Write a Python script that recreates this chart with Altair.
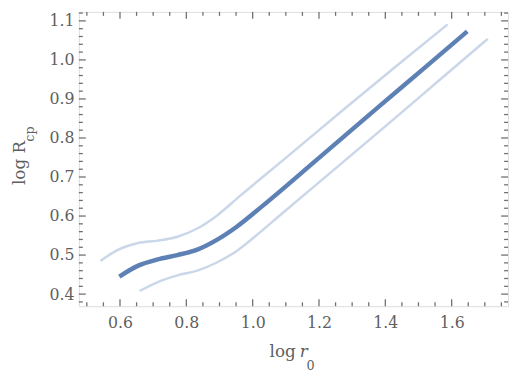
import altair as alt
import pandas as pd

# ---- data ----
main_x = [0.598, 0.655, 0.714, 0.773, 0.833, 0.892, 0.951, 1.030, 1.200, 1.376, 1.520, 1.647]
main_y = [0.445, 0.473, 0.489, 0.500, 0.514, 0.539, 0.572, 0.626, 0.749, 0.877, 0.981, 1.073]

upper_x = [0.541, 0.595, 0.655, 0.714, 0.773, 0.833, 0.892, 0.961, 1.100, 1.287, 1.450, 1.588]
upper_y = [0.485, 0.514, 0.531, 0.537, 0.547, 0.568, 0.601, 0.651, 0.749, 0.882, 0.996, 1.091]

lower_x = [0.659, 0.714, 0.773, 0.833, 0.892, 0.951, 1.030, 1.070, 1.250, 1.407, 1.560, 1.709]
lower_y = [0.408, 0.431, 0.448, 0.460, 0.481, 0.510, 0.564, 0.593, 0.722, 0.835, 0.946, 1.054]

x_major = [0.6, 0.8, 1.0, 1.2, 1.4, 1.6]
x_minor = [0.5, 0.55, 0.65, 0.7, 0.75, 0.85, 0.9, 0.95, 1.05, 1.1, 1.15, 1.25, 1.3, 1.35,
           1.45, 1.5, 1.55, 1.65, 1.7, 1.75]
y_major = [0.4, 0.5, 0.6, 0.7, 0.8, 0.9, 1.0, 1.1]
y_minor = [0.38, 0.42, 0.44, 0.46, 0.48, 0.52, 0.54, 0.56, 0.58, 0.62, 0.64, 0.66, 0.68,
           0.72, 0.74, 0.76, 0.78, 0.82, 0.84, 0.86, 0.88, 0.92, 0.94, 0.96, 0.98,
           1.02, 1.04, 1.06, 1.08, 1.12]

X_DOMAIN = [0.476, 1.770]
Y_DOMAIN = [0.369, 1.123]
W, H = 436, 299
MAJ, MIN = 7, 4

FONT = "DejaVu Serif"
FRAME = "#999999"
TICK = "#707070"
LABEL = "#5f5f5f"
MAIN = "#5e81b5"
LIGHT = "#cad7e9"

def frame_df(xs, ys, name):
    return pd.DataFrame({"x": xs, "y": ys, "s": name})

main_df = frame_df(main_x, main_y, "main")
band_df = pd.concat([frame_df(upper_x, upper_y, "upper"),
                     frame_df(lower_x, lower_y, "lower")])

xs = alt.Scale(domain=X_DOMAIN, nice=False, zero=False)
ys = alt.Scale(domain=Y_DOMAIN, nice=False, zero=False)

bands = alt.Chart(band_df).mark_line(strokeWidth=2.5, color=LIGHT, interpolate="monotone").encode(
    x=alt.X("x:Q", scale=xs, axis=alt.Axis(orient="bottom", values=x_major, format=".1f",
            ticks=False, tickSize=0, domain=False, grid=False, title=None,
            labelPadding=9, labelFont=FONT, labelFontSize=16, labelColor=LABEL)),
    y=alt.Y("y:Q", scale=ys, axis=alt.Axis(orient="left", values=y_major, format=".1f",
            ticks=False, tickSize=0, domain=False, grid=False, title=None,
            labelPadding=5, labelFont=FONT, labelFontSize=16, labelColor=LABEL)),
    detail="s:N",
)

main_line = alt.Chart(main_df).mark_line(strokeWidth=4.5, color=MAIN, interpolate="monotone").encode(
    x=alt.X("x:Q", scale=xs), y=alt.Y("y:Q", scale=ys),
)

def xrules(values, y0, y1):
    return alt.Chart(pd.DataFrame({"v": values})).mark_rule(
        color=TICK, strokeWidth=1.3, opacity=1).encode(
        x=alt.X("v:Q", scale=xs), y=alt.value(y0), y2=alt.value(y1))

def yrules(values, x0, x1):
    return alt.Chart(pd.DataFrame({"v": values})).mark_rule(
        color=TICK, strokeWidth=1.3, opacity=1).encode(
        y=alt.Y("v:Q", scale=ys), x=alt.value(x0), x2=alt.value(x1))

ticks = [
    xrules(x_major, H, H - MAJ), xrules(x_minor, H, H - MIN),
    xrules(x_major, 0, MAJ), xrules(x_minor, 0, MIN),
    yrules(y_major, 0, MAJ), yrules(y_minor, 0, MIN),
    yrules(y_major, W, W - MAJ), yrules(y_minor, W, W - MIN),
]

def label(text, x, y, size=17, angle=0, style="normal", baseline="alphabetic"):
    return alt.Chart(pd.DataFrame({"t": [text]})).mark_text(
        font=FONT, fontSize=size, color=LABEL, angle=angle, fontStyle=style,
        align="center", baseline=baseline).encode(
        x=alt.value(x), y=alt.value(y), text="t:N")

titles = [
    label("log", 207, 351),
    label("r", 228.5, 351, style="italic"),
    label("0", 235.5, 360, size=13, baseline="middle"),
    label("log R", -60, 153.5, angle=270, baseline="middle"),
    label("cp", -50, 124, size=13, angle=270, baseline="middle"),
]

chart = alt.layer(*ticks, bands, main_line, *titles).properties(
    width=W, height=H,
    autosize=alt.AutoSizeParams(type="none"),
    padding={"left": 72, "top": 1, "right": 2, "bottom": 72},
).configure_view(stroke=FRAME, strokeWidth=1.2).configure(background="white")

chart.save("out.html", embed_options={"renderer": "svg", "actions": False})
